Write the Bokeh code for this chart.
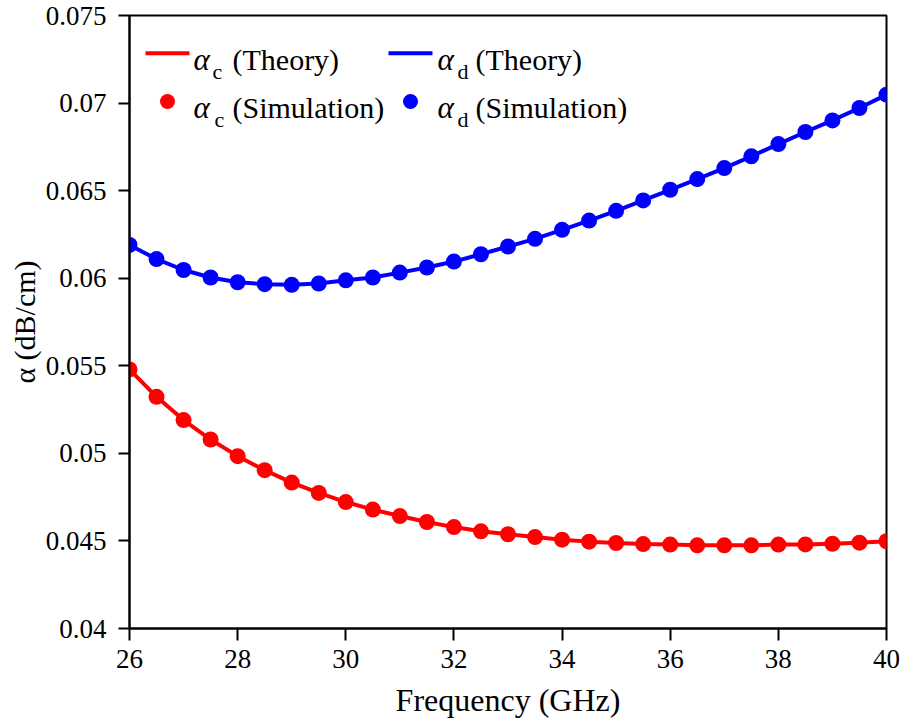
import math
from bokeh.plotting import figure
from bokeh.models import Range1d, Label, FixedTicker
from bokeh.embed import file_html
from bokeh.resources import INLINE

# ---------------- data ----------------
freq_ghz = [26.0, 26.5, 27.0, 27.5, 28.0, 28.5, 29.0, 29.5, 30.0, 30.5,
            31.0, 31.5, 32.0, 32.5, 33.0, 33.5, 34.0, 34.5, 35.0, 35.5,
            36.0, 36.5, 37.0, 37.5, 38.0, 38.5, 39.0, 39.5, 40.0]

alpha_c = [0.05479, 0.05323, 0.05190, 0.05079, 0.04984, 0.04904, 0.04833, 0.04774,
           0.04722, 0.04679, 0.04642, 0.04608, 0.04579, 0.04555, 0.04538, 0.04522,
           0.04507, 0.04496, 0.04488, 0.04482, 0.04479, 0.04475, 0.04475, 0.04475,
           0.04479, 0.04480, 0.04484, 0.04490, 0.04498]

alpha_d = [0.06190, 0.06109, 0.06047, 0.06004, 0.05977, 0.05966, 0.05962, 0.05970,
           0.05988, 0.06004, 0.06032, 0.06061, 0.06095, 0.06137, 0.06181, 0.06225,
           0.06276, 0.06329, 0.06385, 0.06444, 0.06505, 0.06566, 0.06629, 0.06696,
           0.06766, 0.06835, 0.06901, 0.06972, 0.07048]

x_ticks = [26, 28, 30, 32, 34, 36, 38, 40]
x_tick_labels = ["26", "28", "30", "32", "34", "36", "38", "40"]
y_ticks = [0.04, 0.045, 0.05, 0.055, 0.06, 0.065, 0.07, 0.075]
y_tick_labels = ["0.04", "0.045", "0.05", "0.055", "0.06", "0.065", "0.07", "0.075"]

x_label = "Frequency (GHz)"
y_label = "α (dB/cm)"
legend_symbols = ["α", "α", "α", "α"]
legend_subs = ["c", "d", "c", "d"]
legend_texts = ["(Theory)", "(Theory)", "(Simulation)", "(Simulation)"]

RED = "#ff0000"
BLUE = "#0000ff"
FONT = "Liberation Serif"

# ---------------- figure ----------------
p = figure(width=903, height=720, output_backend="svg", toolbar_location=None,
           x_range=Range1d(26, 40), y_range=Range1d(0.04, 0.075),
           min_border_left=129, min_border_right=17,
           min_border_top=15, min_border_bottom=92)
p.background_fill_color = "white"
p.border_fill_color = "white"
p.xgrid.visible = False
p.ygrid.visible = False
p.outline_line_color = "black"
p.outline_line_width = 2
p.outline_line_alpha = 1.0

for ax in (p.xaxis, p.yaxis):
    ax.axis_line_width = 2
    ax.axis_line_color = "black"
    ax.major_tick_line_width = 2
    ax.major_tick_line_color = "black"
    ax.major_tick_in = 0
    ax.minor_tick_in = 0
    ax.minor_tick_out = 0
    ax.major_label_text_font = FONT
    ax.major_label_text_font_size = "27px"
    ax.major_label_text_color = "black"
    ax.axis_label_text_font = FONT
    ax.axis_label_text_font_style = "normal"
    ax.axis_label_text_color = "black"

p.xaxis.ticker = FixedTicker(ticks=x_ticks)
p.xaxis.major_label_overrides = {t: l for t, l in zip(x_ticks, x_tick_labels)}
p.xaxis.major_tick_out = 12
p.xaxis.major_label_standoff = 9
p.xaxis.axis_label = x_label
p.xaxis.axis_label_text_font_size = "32px"
p.xaxis.axis_label_standoff = 11

p.yaxis.ticker = FixedTicker(ticks=y_ticks)
p.yaxis.major_label_overrides = {t: l for t, l in zip(y_ticks, y_tick_labels)}
p.yaxis.major_tick_out = 11
p.yaxis.major_label_standoff = 12
p.yaxis.axis_label = y_label
p.yaxis.axis_label_text_font_size = "30px"
p.yaxis.axis_label_standoff = 2

# ---------------- data marks ----------------
p.line(freq_ghz, alpha_c, line_color=RED, line_width=4)
p.line(freq_ghz, alpha_d, line_color=BLUE, line_width=4)
p.scatter(freq_ghz, alpha_c, size=16, fill_color=RED, line_color=RED, line_width=0)
p.scatter(freq_ghz, alpha_d, size=16, fill_color=BLUE, line_color=BLUE, line_width=0)

# ---------------- pixel range for legend (canvas pixels) ----------------
p.extra_x_ranges = {"px": Range1d(129, 886)}
p.extra_y_ranges = {"px": Range1d(628, 15)}

def lab(x, y, text, size, style="normal"):
    p.add_layout(Label(x=x, y=y, x_range_name="px", y_range_name="px", text=text,
                       text_font=FONT, text_font_size=size, text_font_style=style,
                       text_color="black", text_align="left", text_baseline="alphabetic"))

# ---------------- legend (manual, to allow subscripts) ----------------
key_x = [145, 388]            # line-key left edges (theory row)
key_w = 44
dot_x = [167, 410]            # dot centres (simulation row)
sym_x = [193, 437]
sub_x = [212, 457]
txt_x = [232, 475]
row_base = [59, 107]
row_mid = [52.7, 101]
colors = [RED, BLUE]

for col in range(2):
    p.line([key_x[col], key_x[col] + key_w], [row_mid[0], row_mid[0]],
           x_range_name="px", y_range_name="px", line_color=colors[col], line_width=4)
    p.scatter([dot_x[col]], [row_mid[1]], x_range_name="px", y_range_name="px",
              size=15, fill_color=colors[col], line_color=colors[col], line_width=0)

for i in range(4):
    row, col = divmod(i, 2)
    lab(sym_x[col], row_base[row], legend_symbols[i], "31px", style="italic")
    lab(sub_x[col] + (2 if row == 1 and col == 0 else 0), row_base[row] + 12, legend_subs[i], "22px")
    lab(txt_x[col], row_base[row], legend_texts[i], "30px")

open("out.html", "w").write(file_html(p, INLINE))
